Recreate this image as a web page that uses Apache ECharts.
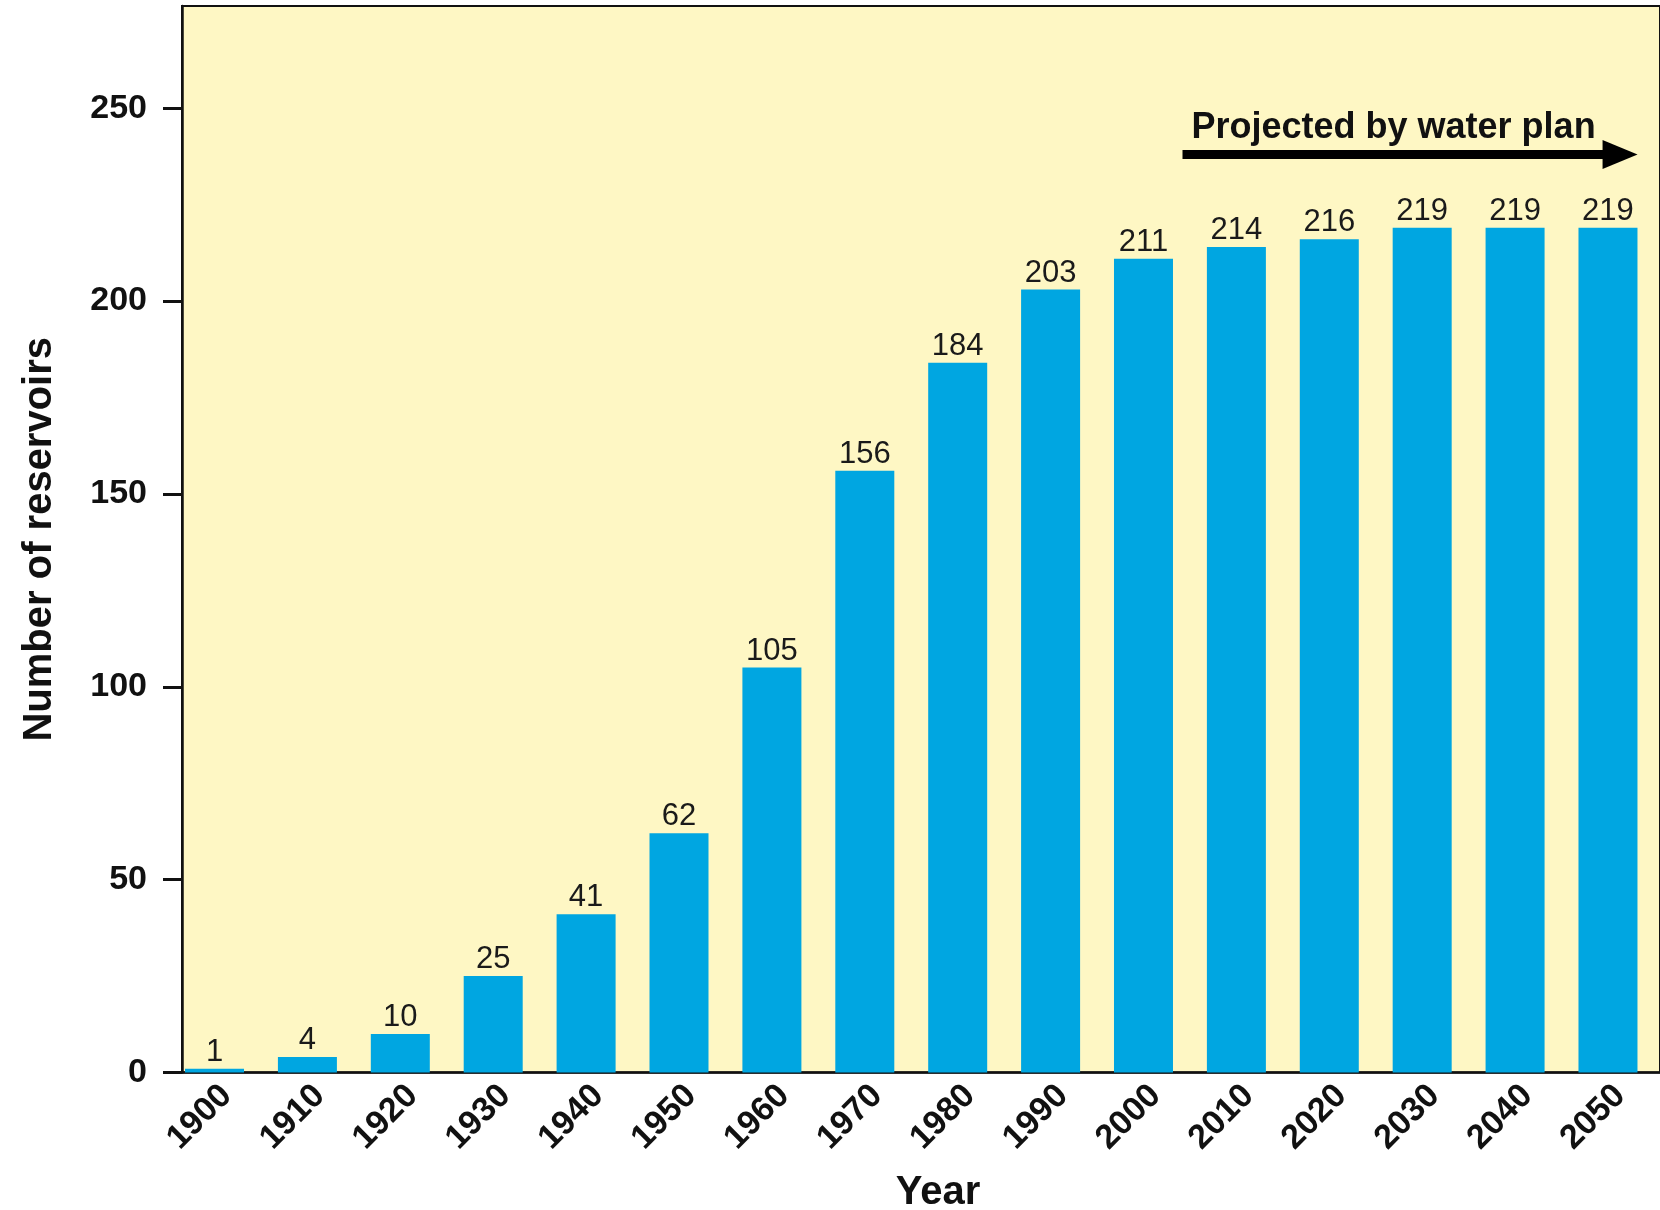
<!DOCTYPE html>
<html>
<head>
<meta charset="utf-8">
<script src="https://cdn.jsdelivr.net/npm/echarts@6/dist/echarts.min.js"></script>
<style>
html,body{margin:0;padding:0;background:#fff;}
#chart{width:1660px;height:1210px;}
</style>
</head>
<body>
<div id="chart"></div>
<script>
const years = [1900,1910,1920,1930,1940,1950,1960,1970,1980,1990,2000,2010,2020,2030,2040,2050];
const reservoirs = [1,4,10,25,41,62,105,156,184,203,211,214,216,219,219,219];
const yTicks = [0,50,100,150,200,250];
const projectedText = 'Projected by water plan';
const projectedFrom = 2004.2;
const projectedTo = 2051.3;
const projectedLevel = 238;
// rotated year labels sit slightly right of their bars in the source figure
const labelShift = 1.3;

const FONT = '"Liberation Sans", Arial, Helvetica, sans-serif';
const chart = echarts.init(document.getElementById('chart'), null, {renderer:'canvas'});
chart.setOption({
  animation:false,
  backgroundColor:'#ffffff',
  grid:{left:182, right:0, top:6, bottom:137.5, outerBoundsMode:'none', containLabel:false,
        show:true, backgroundColor:'#FEF7C4', borderColor:'#111', borderWidth:2},
  xAxis:{
    type:'value', min:1896.5, max:2055.6,
    name:'Year', nameLocation:'middle', nameGap:100,
    nameTextStyle:{fontFamily:FONT, fontWeight:'bold', fontSize:40, color:'#111', padding:[0,0,0,34]},
    axisLine:{show:true, lineStyle:{color:'#111', width:2.5}},
    axisTick:{show:false},
    splitLine:{show:false},
    axisLabel:{customValues:years.map(y=>y+labelShift), rotate:45, margin:18, fontFamily:FONT, fontWeight:'bold', fontSize:34, color:'#111',
               formatter:v=>String(Math.round(v-labelShift))}
  },
  yAxis:{
    type:'value', min:0, max:276.5,
    name:'Number of reservoirs', nameLocation:'middle', nameGap:122,
    nameTextStyle:{fontFamily:FONT, fontWeight:'bold', fontSize:40, color:'#111'},
    axisLine:{show:true, lineStyle:{color:'#111', width:2.5}},
    axisTick:{show:true, customValues:yTicks, length:19, lineStyle:{color:'#111', width:3}},
    splitLine:{show:false},
    axisLabel:{customValues:yTicks, margin:35, fontFamily:FONT, fontWeight:'bold', fontSize:34, color:'#111'}
  },
  series:[{
    type:'bar',
    data:years.map((y,i)=>[y,reservoirs[i]]),
    barWidth:59,
    itemStyle:{color:'#00A6E1'},
    label:{show:true, position:'top', distance:1, fontFamily:FONT, fontSize:31, color:'#1a1a1a', formatter:p=>String(p.value[1])},
    markLine:{
      silent:true,
      symbol:['none','triangle'],
      symbolSize:[29,35],
      lineStyle:{color:'#000', width:9, type:'solid'},
      label:{show:true, position:'insideStartTop', distance:[9,8], formatter:projectedText, fontFamily:FONT, fontWeight:'bold', fontSize:36, color:'#111'},
      data:[[{coord:[projectedFrom, projectedLevel]},{coord:[projectedTo, projectedLevel]}]]
    }
  }]
});
</script>
</body>
</html>
